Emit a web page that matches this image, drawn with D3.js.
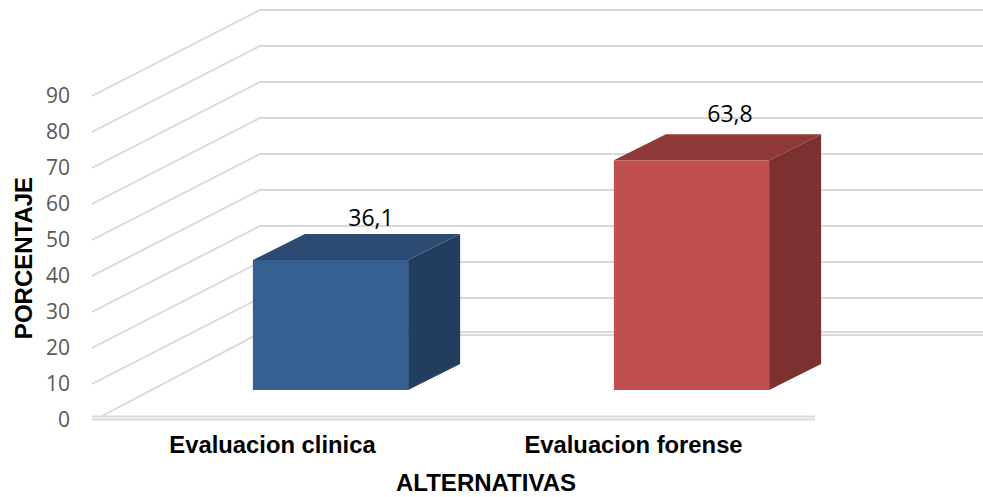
<!DOCTYPE html>
<html><head><meta charset="utf-8">
<script src="https://cdn.jsdelivr.net/npm/d3@7"></script>
<style>html,body{margin:0;padding:0;background:#fff}svg{display:block}</style>
</head><body><svg id="c" width="983" height="497"></svg>
<script>
const categories = ["Evaluacion clinica", "Evaluacion forense"];
const values = [36.1, 63.8];
const valueLabels = ["36,1", "63,8"];
const ticks = [0,10,20,30,40,50,60,70,80,90];
const frontColors = ["#376092", "#c0504d"];
const topColors = ["#2c4a72", "#8f3a38"];
const sideColors = ["#213e5f", "#7b3130"];

const svg = d3.select("#c");
const y = d3.scaleLinear().domain([0,90]).range([420,96]);
const x = d3.scaleBand().domain(categories).range([92,814]).paddingInner(0.57).paddingOuter(0.285);
const wallDx = 168, wallDy = -86, barShiftX = 58, barShiftY = -30, barDx = 52, barDy = -26;
const grid = "#d9d9d9";
const labelDx = [40.5, 38.5], labelLift = [8, 12];

const g = svg.append("g");
ticks.filter(t => t > 0).forEach(t => {
  g.append("path").attr("fill","none").attr("stroke",grid).attr("stroke-width",1.9)
   .attr("d", d3.line()([[92,y(t)],[92+wallDx,y(t)+wallDy],[983,y(t)+wallDy]]));
});
// floor
g.append("path").attr("fill","none").attr("stroke",grid).attr("stroke-width",1.9)
 .attr("d", d3.line()([[100,y(0)-3],[92+wallDx,y(0)+wallDy-1]]));
[-1.5,1.5].forEach(o=>{
  g.append("line").attr("x1",92+wallDx).attr("x2",983).attr("y1",y(0)+wallDy+o-0.5).attr("y2",y(0)+wallDy+o-0.5).attr("stroke",grid).attr("stroke-width",1.8);
  g.append("line").attr("x1",92).attr("x2",815).attr("y1",y(0)-2+o).attr("y2",y(0)-2+o).attr("stroke",grid).attr("stroke-width",1.8);
});

// bars
categories.forEach((c,i)=>{
  const x0 = x(c)+barShiftX, x1 = x0+x.bandwidth();
  const yb = y(0)+barShiftY, yt = y(values[i])+barShiftY;
  const poly = (pts,f)=>g.append("path").attr("d",d3.line()(pts)+"Z").attr("fill",f);
  poly([[x1,yb],[x1+barDx,yb+barDy],[x1+barDx,yt+barDy],[x1,yt]], sideColors[i]);
  poly([[x0,yt],[x0+barDx,yt+barDy],[x1+barDx,yt+barDy],[x1,yt]], topColors[i]);
  poly([[x0,yb],[x1,yb],[x1,yt],[x0,yt]], frontColors[i]);
  g.append("text").attr("x",(x0+x1)/2+labelDx[i]).attr("y",yt+barDy-labelLift[i]).attr("text-anchor","middle")
   .attr("font-family","'Open Sans',sans-serif").attr("font-size",23).attr("fill","#000").text(valueLabels[i]);
  g.append("text").attr("x",x(c)+x.bandwidth()/2).attr("y",453).attr("text-anchor","middle")
   .attr("font-family","'Liberation Sans',Arial,sans-serif").attr("font-weight","bold").attr("font-size",23.8).attr("fill","#000").text(c);
});

// y axis tick labels via d3 axis
const axis = d3.axisLeft(y).tickValues(ticks).tickSize(0).tickPadding(0);
const ag = svg.append("g").attr("transform","translate(70,0)").call(axis);
ag.select(".domain").remove();
ag.selectAll("text").attr("font-family","'Open Sans',sans-serif").attr("font-size",21).attr("fill","#595959");

svg.append("text").attr("transform","translate(32,258) rotate(-90)").attr("text-anchor","middle")
 .attr("font-family","'Liberation Sans',Arial,sans-serif").attr("font-weight","bold").attr("font-size",24).text("PORCENTAJE");
svg.append("text").attr("x",486).attr("y",491).attr("text-anchor","middle")
 .attr("font-family","'Liberation Sans',Arial,sans-serif").attr("font-weight","bold").attr("font-size",24).text("ALTERNATIVAS");
</script></body></html>
